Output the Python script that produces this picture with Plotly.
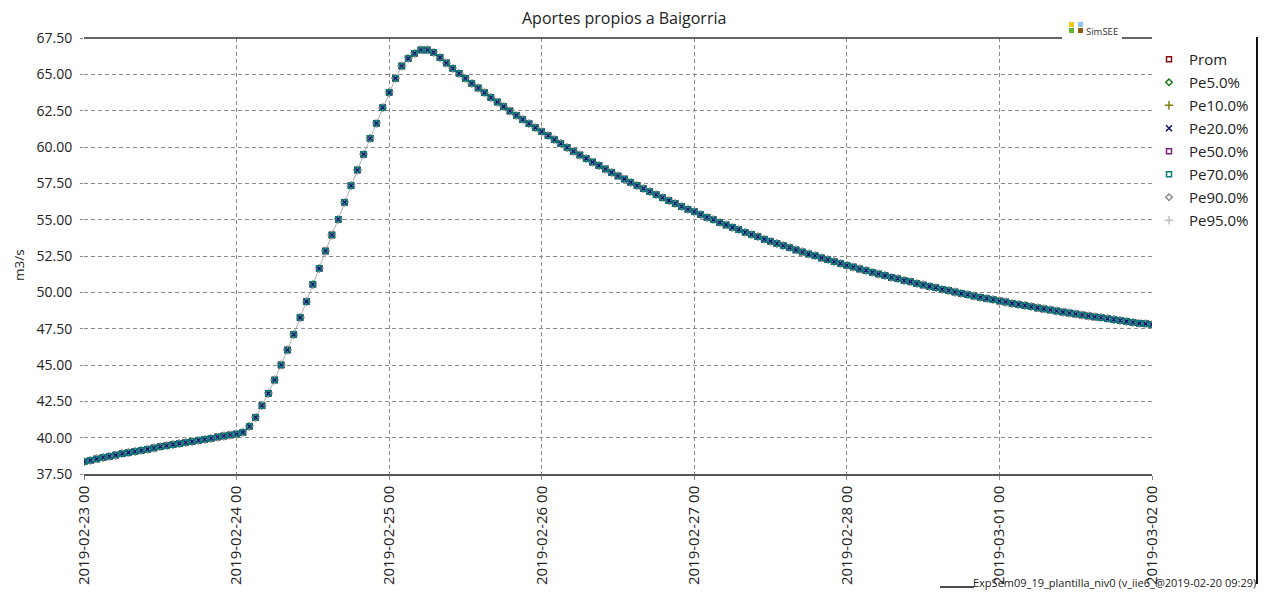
import pandas as pd
import plotly.graph_objects as go

# ---- data (hourly, m3/s) ----
inicio = "2019-02-23 00:00"
caudal = [
    38.35, 38.45, 38.54, 38.63, 38.72, 38.80, 38.89, 38.97, 39.05, 39.13,
    39.21, 39.29, 39.37, 39.44, 39.52, 39.59, 39.67, 39.74, 39.82, 39.89,
    39.96, 40.04, 40.11, 40.18, 40.25, 40.38, 40.78, 41.40, 42.20, 43.05,
    43.97, 45.00, 46.03, 47.10, 48.26, 49.36, 50.55, 51.65, 52.84, 53.95,
    55.03, 56.20, 57.34, 58.42, 59.50, 60.60, 61.63, 62.70, 63.76, 64.73,
    65.57, 66.10, 66.45, 66.68, 66.68, 66.52, 66.15, 65.78, 65.42, 65.07,
    64.73, 64.39, 64.06, 63.73, 63.41, 63.09, 62.78, 62.48, 62.18, 61.89,
    61.60, 61.32, 61.05, 60.77, 60.50, 60.23, 59.97, 59.71, 59.45, 59.20,
    58.96, 58.72, 58.48, 58.24, 58.01, 57.79, 57.57, 57.35, 57.13, 56.92,
    56.71, 56.51, 56.31, 56.11, 55.91, 55.72, 55.54, 55.35, 55.17, 54.99,
    54.81, 54.64, 54.47, 54.30, 54.14, 53.98, 53.82, 53.66, 53.51, 53.36,
    53.21, 53.07, 52.92, 52.78, 52.64, 52.51, 52.37, 52.24, 52.11, 51.98,
    51.86, 51.74, 51.61, 51.50, 51.38, 51.26, 51.15, 51.04, 50.93, 50.82,
    50.72, 50.61, 50.51, 50.41, 50.31, 50.21, 50.12, 50.02, 49.93, 49.84,
    49.75, 49.66, 49.58, 49.49, 49.41, 49.33, 49.24, 49.17, 49.09, 49.01,
    48.93, 48.86, 48.79, 48.72, 48.64, 48.58, 48.51, 48.44, 48.37, 48.31,
    48.25, 48.18, 48.12, 48.06, 48.00, 47.94, 47.88, 47.83, 47.77,
]
series_names = ["Prom", "Pe5.0%", "Pe10.0%", "Pe20.0%", "Pe50.0%", "Pe70.0%", "Pe90.0%", "Pe95.0%"]
# all series coincide in the picture (deterministic inflow)
series_values = {name: caudal for name in series_names}
tick_dates = ["2019-02-23", "2019-02-24", "2019-02-25", "2019-02-26",
              "2019-02-27", "2019-02-28", "2019-03-01", "2019-03-02"]
tick_text = [d + " 00" for d in tick_dates]
y_ticks = [37.5 + 2.5 * i for i in range(13)]

# ---- styles ----
styles = {
    "Prom": ("square-open", "#7f1010", 5),
    "Pe5.0%": ("diamond-open", "#1a7a1a", 5),
    "Pe10.0%": ("cross-thin-open", "#7f7f10", 6),
    "Pe20.0%": ("x-thin-open", "#101070", 6),
    "Pe50.0%": ("square-open", "#7f207f", 5),
    "Pe70.0%": ("square-open", "#107a7a", 5),
    "Pe90.0%": ("diamond-open", "#8a8a8a", 5),
    "Pe95.0%": ("cross-thin-open", "#c0c0c0", 6),
}
draw_order = ["Prom", "Pe5.0%", "Pe50.0%", "Pe90.0%", "Pe10.0%", "Pe95.0%", "Pe20.0%", "Pe70.0%"]

x = pd.date_range(inicio, periods=len(caudal), freq="h")

fig = go.Figure()
fig.add_trace(go.Scatter(x=x, y=caudal, mode="lines",
                         line=dict(color="#b0b0b0", width=1),
                         showlegend=False, hoverinfo="skip"))
for name in draw_order:
    idx = series_names.index(name)
    sym, col, sz = styles[name]
    fig.add_trace(go.Scatter(
        x=x, y=series_values[name], mode="markers", name=name,
        legendgroup=name, legendrank=idx + 1,
        marker=dict(symbol=sym, size=sz, color=col, line=dict(color=col, width=1.5)),
    ))

FONT = "Open Sans"
OFF = 8                      # browser body margin
W, H = 1269 - 2 * OFF, 600 - 2 * OFF
L, R, T, B = 84, 1152, 38, 474   # plot area in window pixels
pw, ph = R - L, B - T

def px(xp):
    return (xp - L) / pw

def py(yp):
    return (B - yp) / ph

grid = dict(showgrid=True, gridcolor="#8c8c8c", gridwidth=1, griddash="4px,3px")

fig.update_layout(
    width=W, height=H,
    margin=dict(l=L - OFF, r=W - (R - OFF), t=T - OFF, b=H - (B - OFF), pad=0, autoexpand=False),
    paper_bgcolor="white", plot_bgcolor="white",
    font=dict(family=FONT, color="#222222", size=14),
    showlegend=True,
    legend=dict(x=px(1149), y=py(43), xanchor="left", yanchor="top",
                font=dict(size=15, family=FONT, color="#222222"),
                bgcolor="rgba(0,0,0,0)", tracegroupgap=0.5, traceorder="grouped"),
    xaxis=dict(type="date", range=[tick_dates[0], tick_dates[-1]],
               tickmode="array", tickvals=tick_dates, ticktext=tick_text,
               tickangle=-90, tickfont=dict(size=15, family=FONT, color="#222222"),
               showline=True, linecolor="#555555", linewidth=1.5,
               ticks="outside", ticklen=4, tickcolor="#888888",
               zeroline=False, **grid),
    yaxis=dict(range=[37.5, 67.5], tickmode="array", tickvals=y_ticks,
               tickformat=".2f", tickfont=dict(size=14, family=FONT, color="#222222"),
               ticks="outside", ticklen=3, tickcolor="#888888",
               ticklabelstandoff=5, showline=False, zeroline=False, **grid),
)

# title and axis title
fig.add_annotation(text="Aportes propios a Baigorria", xref="paper", yref="paper",
                   x=px(624), y=py(18), xanchor="center", yanchor="middle", showarrow=False,
                   font=dict(size=16, family=FONT, color="#222222"))
fig.add_annotation(text="m3/s", xref="paper", yref="paper", x=px(19), y=py(265),
                   xanchor="center", yanchor="middle",
                   textangle=-90, showarrow=False,
                   font=dict(size=13.5, family=FONT, color="#222222"))
# footer
fig.add_annotation(text="ExpSem09_19_plantilla_niv0 (v_iie6_@2019-02-20 09:29)",
                   xref="paper", yref="paper", x=px(1258), y=py(582.5),
                   xanchor="right", yanchor="middle", showarrow=False,
                   font=dict(size=11, family=FONT, color="#222222"))
# SimSEE logo
fig.add_annotation(text="SimSEE", xref="paper", yref="paper", x=px(1084), y=py(32),
                   xanchor="left", yanchor="middle", showarrow=False,
                   font=dict(size=9.5, family=FONT, color="#333333"))
logo = [(1069, 22, "#f2c818"), (1078, 22, "#8ec4ee"), (1069, 28, "#5cb82a"), (1078, 28, "#8a5a10")]
for lx, ly, c in logo:
    fig.add_shape(type="rect", xref="paper", yref="paper",
                  x0=px(lx), x1=px(lx + 5), y0=py(ly), y1=py(ly + 5),
                  fillcolor=c, line=dict(width=0))

# frame lines
line_dark = dict(color="#333333", width=1.5)
fig.add_shape(type="line", xref="paper", yref="paper", x0=0, x1=px(1062), y0=1, y1=1, line=line_dark)
fig.add_shape(type="line", xref="paper", yref="paper", x0=px(1122), x1=1, y0=1, y1=1, line=line_dark)
fig.add_shape(type="line", xref="paper", yref="paper", x0=px(1257), x1=px(1257),
              y0=py(37), y1=py(584), line=dict(color="#111111", width=2))
fig.add_shape(type="line", xref="paper", yref="paper", x0=px(940), x1=px(974),
              y0=py(587), y1=py(587), line=dict(color="#111111", width=1.5))

fig.write_html("out.html")
